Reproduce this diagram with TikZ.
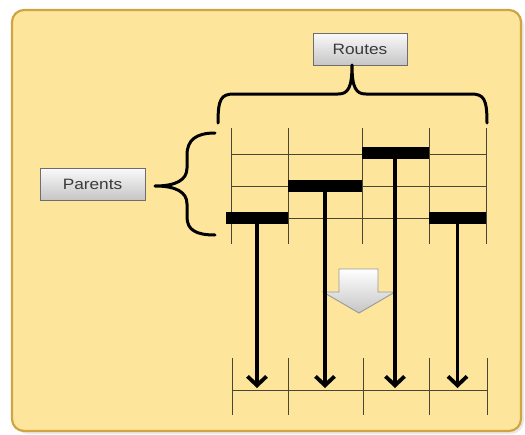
\documentclass[tikz,border=0pt]{standalone}
\usepackage{fontspec}
\setmainfont{Liberation Sans}
\usetikzlibrary{arrows.meta,shadows}
\definecolor{bgfill}{HTML}{FDE69B}
\definecolor{bgline}{HTML}{D1A443}
\definecolor{gridc}{HTML}{4A4535}
\definecolor{boxline}{HTML}{6E6E6E}
\definecolor{txt}{HTML}{3A3A3A}
\tikzset{
  labelbox/.style={draw=boxline, line width=0.9pt, top color=white!96!gray, bottom color=gray!45,
    minimum height=32pt, inner sep=0pt, text=txt,
    font=\fontsize{15}{18}\selectfont},
  barbox/.style={fill=black, draw=none, minimum height=12pt, inner sep=0pt},
  gridline/.style={draw=gridc, line width=0.9pt},
  bracepath/.style={draw=black, line width=3pt, line cap=round, line join=round},
  stemline/.style={draw=black, line width=3.8pt, -{Straight Barb[length=9pt, width=19pt, line width=3.8pt]}},
}
\begin{document}
\begin{tikzpicture}[x=1pt, y=-1pt]
\useasboundingbox (0,0) rectangle (525,434);
% background panel
\fill[black!25, opacity=0.35, rounded corners=13pt] (15,13) rectangle (524,434);
\draw[bgline, fill=bgfill, line width=2.2pt, rounded corners=12pt] (12,10) rectangle (521,431);

% top grid
\foreach \x in {231,288,362,429,486} \draw[gridline] (\x,128) -- (\x,244);
\foreach \y in {154,186,218} \draw[gridline] (231,\y) -- (486,\y);

% bottom grid
\foreach \x in {232,288,363,429,487} \draw[gridline] (\x,358) -- (\x,415);
\draw[gridline] (232,390) -- (487,390);

% gray block arrow
\draw[draw=gray!80, line width=0.9pt, top color=white, bottom color=gray!45]
  (339,269) -- (378,269) -- (378,292) -- (395,292) -- (359,313) -- (323,292) -- (339,292) -- cycle;

% bars
\node[barbox, minimum width=62pt] (b1) at (257,218) {};
\node[barbox, minimum width=74pt] (b2) at (325,186) {};
\node[barbox, minimum width=67pt] (b3) at (395,153) {};
\node[barbox, minimum width=57pt] (b4) at (457.5,218) {};

% arrow ends
\coordinate (e1) at (257,388);
\coordinate (e2) at (325,388);
\coordinate (e3) at (395,388);
\coordinate (e4) at (457.5,388);
\draw[stemline] (b1.south) -- (e1);
\draw[stemline] (b2.south) -- (e2);
\draw[stemline] (b3.south) -- (e3);
\draw[stemline] (b4.south) -- (e4);

% label boxes
\node[labelbox, minimum width=94pt] (routes) at (360,49) {\scalebox{1.15}[1]{Routes}};
\node[labelbox, minimum width=105pt] (parents) at (92.5,184) {\scalebox{1.15}[1]{Parents}};

% top brace
\coordinate (tl) at (218,123);
\coordinate (tr) at (487,123);
\coordinate (ttip) at (352,65);
\draw[bracepath] (tl) .. controls (218,99) and (221,94) .. (234,94) -- (338,94)
  .. controls (348,94) and (352,88) .. (ttip)
  .. controls (352,88) and (356,94) .. (366,94) -- (471,94)
  .. controls (484,94) and (487,99) .. (tr);

% left brace
\coordinate (lt) at (215,133);
\coordinate (lb) at (215,235);
\coordinate (ltip) at (155,186);
\draw[bracepath] (lt) .. controls (196,133) and (187,140) .. (187,155) -- (187,168)
  .. controls (187,180) and (176,186) .. (ltip)
  .. controls (176,186) and (187,192) .. (187,204) -- (187,217)
  .. controls (187,230) and (196,235) .. (lb);
\end{tikzpicture}
\end{document}
